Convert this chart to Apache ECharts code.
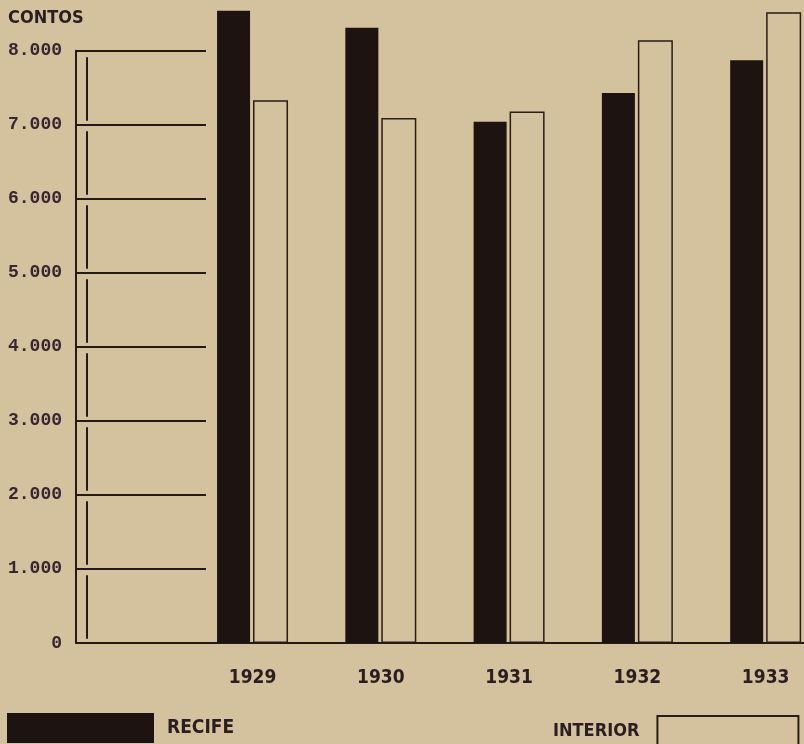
<!DOCTYPE html>
<html>
<head>
<meta charset="utf-8">
<script src="https://cdn.jsdelivr.net/npm/echarts@6/dist/echarts.min.js"></script>
<style>
html,body{margin:0;padding:0;background:#d3c29d;}
#c{width:804px;height:744px;}
</style>
</head>
<body>
<div id="c"></div>
<script>
var years = ['1929', '1930', '1931', '1932', '1933'];
var recife = [8540, 8310, 7040, 7430, 7870];
var interior = [7330, 7090, 7180, 8140, 8520];
var yTickLabels = ['0', '1.000', '2.000', '3.000', '4.000', '5.000', '6.000', '7.000', '8.000'];

var ink = '#261a16';
var narrow = '"Liberation Sans Narrow", "DejaVu Sans Condensed", sans-serif';
var chart = echarts.init(document.getElementById('c'));
chart.setOption({
  backgroundColor: '#d3c29d',
  animation: false,
  title: {
    text: 'CONTOS', left: 8, top: 9, padding: 0,
    textStyle: { fontFamily: narrow, fontWeight: 'bold', fontSize: 18, color: '#2b1e20' }
  },
  legend: [
    {
      data: ['RECIFE'], left: 7, top: 713, padding: 0, icon: 'rect',
      itemWidth: 147, itemHeight: 30, selectedMode: false,
      textStyle: { fontFamily: narrow, fontWeight: 'bold', fontSize: 19, color: '#2b1e20', padding: [0, 0, 0, 8] }
    },
    {
      data: ['INTERIOR'], left: 553, top: 715, padding: 0, icon: 'rect', align: 'right',
      itemWidth: 141, itemHeight: 30, selectedMode: false,
      textStyle: { fontFamily: narrow, fontWeight: 'bold', fontSize: 18, color: '#2b1e20', padding: [0, 13, 0, 0] }
    }
  ],
  grid: [
    { left: 188.4, width: 641.4, top: 0, bottom: 101, outerBoundsMode: 'none', containLabel: false },
    { left: 76, width: 130, top: 50.7, bottom: 101, outerBoundsMode: 'none', containLabel: false }
  ],
  xAxis: [
    {
      type: 'category', data: years, gridIndex: 0,
      axisLine: { lineStyle: { color: ink, width: 2 } },
      axisTick: { show: false },
      axisLabel: { margin: 26, fontFamily: narrow, fontWeight: 'bold', fontSize: 19, color: '#2b1e20' }
    },
    {
      type: 'value', gridIndex: 1, min: 0, max: 1,
      axisLine: { show: true, lineStyle: { color: ink, width: 2 } },
      axisTick: { show: false }, axisLabel: { show: false }, splitLine: { show: false }
    }
  ],
  yAxis: [
    { type: 'value', gridIndex: 0, min: 0, max: 8685, show: false },
    {
      type: 'value', gridIndex: 1, min: 0, max: 8000, interval: 1000,
      axisLine: { show: true, lineStyle: { color: ink, width: 2 } },
      axisTick: { show: false },
      splitLine: { show: true, lineStyle: { color: ink, width: 2 } },
      axisLabel: {
        margin: 14, fontFamily: '"Liberation Mono", "DejaVu Sans Mono", monospace',
        fontWeight: 'bold', fontSize: 18, color: '#3a2630',
        formatter: function (v) { return yTickLabels[Math.round(v / 1000)]; }
      }
    },
    {
      type: 'value', gridIndex: 1, min: 0, max: 8000, position: 'left', offset: -11,
      axisLine: { show: true, lineStyle: { color: ink, width: 2, type: [62, 12], dashOffset: 69 } },
      axisTick: { show: false }, axisLabel: { show: false }, splitLine: { show: false }
    }
  ],
  series: [
    {
      name: 'RECIFE', type: 'bar', xAxisIndex: 0, yAxisIndex: 0, data: recife,
      barWidth: 33, barGap: '9%',
      itemStyle: { color: '#1d1411' }
    },
    {
      name: 'INTERIOR', type: 'bar', xAxisIndex: 0, yAxisIndex: 0, data: interior,
      barWidth: 35,
      itemStyle: { color: 'rgba(0,0,0,0)', borderColor: '#2a1d18', borderWidth: 1.5 }
    }
  ]
});
</script>
</body>
</html>
